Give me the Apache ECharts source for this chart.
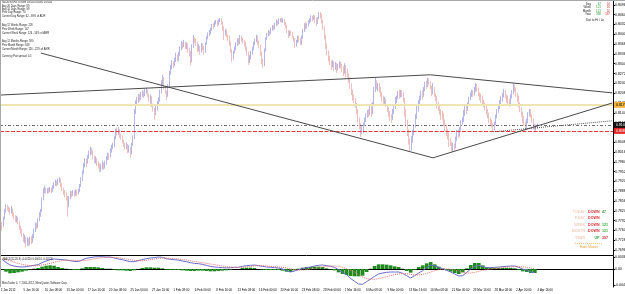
<!DOCTYPE html>
<html>
<head>
<meta charset="utf-8">
<script src="https://cdn.jsdelivr.net/npm/echarts@6/dist/echarts.min.js"></script>
<style>
html,body{margin:0;padding:0;background:#fff;}
#chart{width:625px;height:294px;}
</style>
</head>
<body>
<div id="chart"></div>
<script>
// NZDUSD H4, prices as pips above base (0.7600), one row per trading day
var base = 0.76;
var closes = [
  182,
  175,200,222,238,232,228, 220,230,212,205,196,200, 186,170,160,148,130,138, 120,128,118,132,125,140,
  160,178,172,195,210,222, 262,290,296,284,292,288, 296,290,300,310,318,312, 322,328,310,296,288,280, 268,240,265,280,276,285,
  278,286,282,290,305,326, 350,372,388,380,398,412, 425,418,400,388,392,380, 372,360,368,378,366,380, 395,408,402,420,432,438,
  462,485,478,488,470,464, 452,440,430,438,420,430, 412,440,462,545,572,585, 598,590,604,610,600,615, 618,602,588,596,570,556,
  540,558,575,586,612,640, 655,628,612,596,630,672, 690,705,700,716,728,720, 735,752,770,762,776,760, 768,750,742,712,760,790,
  780,770,752,760,748,766, 758,745,770,788,800,810, 818,830,826,838,842,834, 846,850,836,820,805,812, 798,790,770,748,725,740,
  755,768,780,772,790,784, 776,770,752,738,712,725, 740,752,770,780,790,772, 760,738,712,700,748,785, 798,808,802,816,826,820,
  832,840,836,846,850,842, 848,836,826,810,798,808, 802,790,784,768,776,790, 782,770,790,812,828,824, 832,840,846,856,850,858,
  848,838,852,866,860,845, 820,790,760,738,722,710, 700,708,690,702,688,696, 705,698,690,680,694,686, 665,650,632,610,596,588,
  570,548,520,500,478,492, 505,520,534,548,540,560, 548,570,620,640,628,634, 620,604,590,578,584,570, 555,540,528,522,548,560,
  580,592,608,600,614,606, 585,550,510,480,450,430, 455,478,500,530,560,572, 590,606,598,620,636,630, 650,642,628,610,622,604,
  590,572,560,548,536,530, 512,498,480,470,452,440, 425,438,430,460,478,470, 490,512,520,540,560,552, 570,588,600,612,606,620,
  632,620,604,598,590,582, 570,560,548,536,520,514, 500,490,508,530,548,560, 578,590,600,612,598,588, 578,572,594,612,628,620,
  600,592,570,556,540,528, 510,495,518,538,550,534, 520,500,494,498,504
];
var highs = [
  190,
  188,205,230,246,244,238, 235,240,232,218,210,208, 204,190,176,166,152,146, 140,138,134,140,142,148,
  166,186,184,200,220,230, 268,298,306,300,298,300, 302,300,308,318,326,322, 330,334,330,314,300,292, 285,272,272,290,288,292,
  290,294,292,296,312,334, 356,380,396,394,406,420, 433,430,422,404,402,396, 386,378,378,388,382,388, 402,414,412,428,440,446,
  468,492,496,498,490,476, 470,456,446,448,442,438, 432,446,470,556,584,596, 606,604,612,618,614,622, 626,620,606,604,598,574,
  560,566,582,594,620,650, 668,660,632,616,638,680, 700,716,712,724,740,734, 742,760,778,774,782,772, 774,770,756,746,768,798,
  788,786,776,768,762,772, 770,762,774,794,806,814, 822,834,836,844,847,846, 850,853,852,842,826,818, 815,800,796,776,752,746,
  760,774,786,788,798,796, 788,782,776,760,744,732, 746,760,776,786,798,796, 780,766,742,720,754,790, 804,814,812,822,830,830,
  838,848,844,852,853,854, 852,850,840,830,814,812, 812,808,794,788,782,796, 796,788,796,818,836,840, 836,846,852,862,860,863,
  862,854,856,872,873,868, 848,826,798,770,748,730, 714,716,712,710,706,704, 712,710,704,696,706,700, 688,672,660,640,620,604,
  592,576,556,528,510,500, 512,528,542,553,556,566, 576,578,628,658,650,641, 641,628,612,600,596,590, 572,563,550,540,556,570,
  596,600,615,619,619,618, 612,592,556,521,490,460, 468,488,506,540,568,586, 600,616,618,628,645,648, 658,656,646,632,641,628,
  609,598,580,570,556,550, 544,522,506,490,480,462, 450,446,444,466,488,490, 498,520,530,553,566,568, 578,596,610,619,618,628,
  641,638,626,610,606,600, 586,578,568,556,544,528, 522,510,516,538,556,572, 586,598,609,622,618,604, 600,590,604,618,641,636,
  626,610,600,578,562,548, 534,516,526,546,557,556, 538,526,508,506,510
];
var lows = [
  170,
  160,172,196,218,225,220, 212,215,205,196,188,186, 180,162,150,140,122,118, 105,110,108,112,116,120,
  135,155,164,168,190,205, 220,258,282,278,280,282, 284,282,286,296,305,304, 308,316,302,288,276,268, 258,205,236,262,268,272,
  270,274,272,278,286,302, 322,345,366,368,378,394, 405,408,392,380,378,370, 362,350,352,360,358,362, 375,390,392,398,414,426,
  432,458,470,472,462,456, 445,432,424,426,412,414, 398,408,436,458,540,566, 578,580,586,596,592,598, 606,596,580,574,562,548,
  522,536,552,570,580,606, 632,620,605,586,596,626, 668,686,690,696,710,712, 712,730,748,754,758,752, 752,740,728,700,708,756,
  772,762,742,744,733,740, 748,733,740,766,784,794, 800,812,818,824,832,826, 830,840,832,812,782,796, 790,778,762,740,710,718,
  738,748,762,766,768,776, 770,760,746,730,700,706, 718,734,748,764,774,766, 754,730,702,690,696,744, 782,794,796,800,812,814,
  816,828,828,834,840,838, 838,830,820,804,788,794, 796,786,776,756,760,772, 774,765,766,786,808,816, 818,826,836,840,842,848,
  838,826,834,850,852,836, 814,784,752,732,712,700, 684,692,680,684,674,682, 690,688,676,664,672,660, 660,642,622,602,584,576,
  560,540,512,490,465,474, 478,500,514,528,530,536, 530,540,566,612,620,614, 610,596,580,566,570,563, 548,531,518,511,520,540,
  556,576,588,590,594,596, 578,531,500,468,440,416, 420,446,470,496,524,548, 566,584,588,596,614,622, 628,636,620,598,604,596,
  582,558,550,538,521,522, 500,484,468,458,433,436, 418,416,420,428,452,462, 466,486,506,514,534,540, 550,566,584,596,596,600,
  612,614,598,586,576,568, 562,552,538,526,510,500, 496,482,486,504,526,544, 556,572,580,594,590,576, 566,563,568,590,604,612,
  596,580,562,546,531,511, 502,488,490,510,532,528, 512,494,482,486,492
];

// x axis labels, MT4 puts one every 16 bars
var labelBars = [0,17,33,49,65,81,97,113,129,145,161,177,193,209,225,241,257,273,289,305,321,337,353,369,385,401];
var timeLabels = ['2 Jan 2012','5 Jan 16:00','10 Jan 08:00','13 Jan 00:00','17 Jan 16:00','20 Jan 08:00','25 Jan 00:00',
  '27 Jan 16:00','1 Feb 08:00','6 Feb 00:00','8 Feb 16:00','13 Feb 08:00','16 Feb 00:00','20 Feb 16:00','23 Feb 08:00',
  '28 Feb 00:00','1 Mar 16:00','6 Mar 08:00','9 Mar 00:00','13 Mar 16:00','16 Mar 08:00','21 Mar 00:00','23 Mar 16:00',
  '28 Mar 08:00','2 Apr 00:00','4 Apr 16:00'];
var priceTicks = [0.8496,0.8464,0.8432,0.8400,0.8368,0.8336,0.8304,0.8272,0.8240,0.8208,0.8176,0.8144,0.8112,
  0.8080,0.8048,0.8016,0.7984,0.7952,0.7920,0.7888,0.7856,0.7824,0.7792,0.7760,0.7728,0.7696];

// MACD(12,26,9) sampled every 3 bars, in pips
var macdLine = [29,20,12,9,7,6,7,9,11,13, 19,24,28,30,29,28,27,25,23,22, 27,32,34,36,37,37,36,36,33,30,
  28,25,22,22,25,28,31,33,34,36, 35,31,29,28,27,24,22,19,17,16, 14,11,8,6,5,4,3,4,5,5,
  8,10,11,12,10,8,6,5,4,3, 0,-5,-9,-6,-2,1,4,6,9,11, 12,10,8,5,-2,-10,-17,-28,-37,-45,
  -46,-38,-30,-22,-15,-12,-10,-9,-9,-9, -13,-20,-27,-20,-12,-5,4,12,9,5, 1,-4,-9,-15,-21,-20,-10,0,8,11,
  7,4,4,5,6,7,8,9,9,5, 0,-4,-9,-11];
var signalLine = [30,28,25,21,17,14,12,10,10,10, 12,14,17,20,23,25,26,26,26,25, 25,26,28,30,32,34,35,35,35,34,
  32,30,28,26,25,25,26,28,30,32, 33,33,32,31,30,28,27,25,23,21, 19,17,15,13,11,9,7,6,5,5,
  5,6,7,9,10,10,9,8,7,6, 5,3,0,-2,-3,-3,-2,0,2,4, 6,8,9,9,8,5,1,-4,-10,-17,
  -24,-29,-31,-31,-29,-26,-23,-20,-17,-15, -14,-14,-16,-18,-18,-16,-13,-9,-5,-2, 0,0,-1,-3,-6,-10,-12,-12,-10,-7,
  -4,-2,0,2,3,4,5,6,7,7, 7,5,3,1];
var osma = [-1,-8,-13,-12,-10,-8,-5,-1,1,3, 7,10,11,10,6,3,1,-1,-3,-3, 2,6,6,6,5,3,1,1,-2,-4,
  -4,-5,-6,-4,0,3,5,5,4,4, 2,-2,-3,-3,-3,-4,-5,-6,-6,-5, -5,-6,-7,-7,-6,-5,-4,-2,0,0,
  3,4,4,3,0,-2,-3,-3,-3,-3, -5,-8,-9,-4,1,4,6,6,7,7, 6,2,-1,-4,-10,-15,-18,-21,-22,-22,
  -20,-9,1,9,14,14,13,11,8,6, 1,-6,-11,-2,6,11,17,21,14,7, 1,-4,-8,-12,-15,-10,2,12,18,18,
  11,6,4,3,3,3,3,3,2,-2, -7,-9,-12,-12];
var macdTicks = [0.0036, 0, -0.0048];

// horizontal levels (pips) and trend lines [bar, pips]
var levelPips = [570, 504, 485];
var upperLine = [[0, 602], [321, 668], [457, 609]];
var fallLine = [[30, 739], [323, 397]];
var riseLine = [[323, 397], [457, 576]];
var dotLine = [[368, 482], [457, 518]];

function px(p) { return base + p / 10000; }

var totalBars = 458;
var barIds = [];
for (var i = 0; i < totalBars; i++) barIds.push(String(i));
var macdIds = [];
for (var k = 0; k < 153; k++) macdIds.push(String(k));

var kData = [];
for (var i = 0; i < closes.length; i++) {
  var o = i == 0 ? closes[0] + 6 : closes[i - 1];
  var c = closes[i];
  kData.push([px(o), px(c), px(Math.min(lows[i], o, c)), px(Math.max(highs[i], o, c))]);
}

function isLabelBar(idx) { return labelBars.indexOf(idx) >= 0; }

var FONT = 'Liberation Sans';
var levelColors = ['#efe5b0', '#4a4a4a', '#e43a3a'];
var levelBoxes = ['#f2b43e', '#111111', '#e02828'];
var levelText = ['#000', '#fff', '#fff'];
var levelTypes = ['solid', [3, 2, 1, 2], [4, 1.5]];
var levelWidths = [2, 0.8, 1.2];

var marks = [];
levelPips.forEach(function (p, n) {
  marks.push({
    yAxis: px(p),
    lineStyle: { color: levelColors[n], width: levelWidths[n], type: levelTypes[n] },
    label: { show: true, position: 'end', distance: 1, formatter: px(p).toFixed(4), fontSize: 3.5, fontFamily: FONT,
      color: levelText[n], backgroundColor: levelBoxes[n], padding: [1, 2] }
  });
});
function addPolyline(pts, style) {
  for (var j = 0; j < pts.length - 1; j++) {
    marks.push([
      { coord: [pts[j][0], px(pts[j][1])], lineStyle: style, label: { show: false } },
      { coord: [pts[j + 1][0], px(pts[j + 1][1])] }
    ]);
  }
}
addPolyline(upperLine, { color: '#4a4a4a', width: 1, type: 'solid' });
addPolyline(fallLine, { color: '#4a4a4a', width: 1, type: 'solid' });
addPolyline(riseLine, { color: '#4a4a4a', width: 1, type: 'solid' });
addPolyline(dotLine, { color: '#555', width: 1, type: 'dotted' });

// text overlays
var infoLines = ['NZDUSD,H4  0.8098 0.8110 0.8092 0.8104', 'Avg 20 Days Range: 89', 'Avg 10 Days Range: 98',
  'Prev Day Range: 70', 'Current Day Range: 62 - 69% of ADR', 'Avg 12 Weeks Range: 226', 'Prev Week Range: 147',
  'Current Week Range: 126 - 56% of AWR', 'Avg 12 Months Range: 580', 'Prev Month Range: 348',
  'Current Month Range: 126 - 22% of AMR', 'Currency Pair spread: 4.5'];
var infoY = [2.7, 6, 9.3, 12.5, 15.8, 25.3, 29, 33, 41.7, 45.4, 49.3, 56.7];
var rangeRows = [['Day', '47', '16'], ['Week', '121', '16'], ['Month', '121', '16'], ['Year', '338', '397']];
var moveRows = [['TODAY', 'DOWN', '47'], ['P.DAY', 'DOWN', ''], ['WEEK', 'DOWN', '121'], ['MONTH', 'DOWN', '121'], ['YEAR', 'UP', '397']];

function txt(x, y, s, size, color, align, weight) {
  return { type: 'text', silent: true, z: 100, x: x, y: y,
    style: { text: s, fill: color, font: (weight || 'normal') + ' ' + size + 'px "' + FONT + '"',
      textAlign: align || 'left', textVerticalAlign: 'middle', align: align || 'left', verticalAlign: 'middle' } };
}
var els = [];
infoLines.forEach(function (s, n) { els.push(txt(2, infoY[n], s, 2.6, '#222')); });
var rowY = [4.4, 7.6, 10.8, 14.2];
rangeRows.forEach(function (r, n) {
  els.push(txt(591, rowY[n], r[0], 3, '#222', 'right'));
  els.push(txt(601, rowY[n], r[1], 3, '#2a9a2a', 'right'));
  els.push(txt(610, rowY[n], r[2], 3, '#d83a3a', 'right'));
});
els.push(txt(595, 19.8, 'Dist to Hi / Lo', 3, '#222', 'center'));
var moveY = [211.5, 218, 224.6, 231.2, 238];
moveRows.forEach(function (r, n) {
  els.push(txt(585, moveY[n], r[0], 3.6, '#f3cbbd', 'right', 'bold'));
  els.push(txt(599.5, moveY[n], r[1], 3.6, r[1] == 'UP' ? '#35a535' : '#d53030', 'right', 'bold'));
  els.push(txt(602, moveY[n], r[2], 3.6, n == 4 ? '#d53030' : '#35a535', 'left', 'bold'));
});
els.push({ type: 'line', silent: true, z: 100, shape: { x1: 575, y1: 243.5, x2: 603, y2: 243.5 },
  style: { stroke: '#e9a33c', lineWidth: 0.7, lineDash: [1, 1] } });
els.push(txt(589, 247.3, 'Main Moves', 3.4, '#e9a33c', 'center'));
els.push(txt(3, 259.5, 'MACD(12,26,9) -0.00110 0.00010 -0.00120', 2.6, '#222'));
els.push(txt(2, 283.4, 'MetaTrader 4, \u00a9 2001-2012, MetaQuotes Software Corp.', 2.6, '#222'));
els.push({ type: 'line', silent: true, z: 100, shape: { x1: 0, y1: 0.5, x2: 625, y2: 0.5 }, style: { stroke: '#a8a8a8', lineWidth: 1 } });
els.push({ type: 'line', silent: true, z: 100, shape: { x1: 0.5, y1: 0, x2: 0.5, y2: 287 }, style: { stroke: '#a8a8a8', lineWidth: 1 } });

var chart = echarts.init(document.getElementById('chart'), null, { renderer: 'canvas' });
var option = {
  animation: false,
  backgroundColor: '#ffffff',
  grid: [
    { left: 0, top: 0, width: 613, height: 255, containLabel: false, outerBoundsMode: 'none' },
    { left: 0, top: 256, width: 613, height: 31, containLabel: false, outerBoundsMode: 'none' }
  ],
  xAxis: [
    { type: 'category', gridIndex: 0, data: barIds, axisLine: { lineStyle: { color: '#000', width: 1 } },
      axisTick: { show: false }, axisLabel: { show: false }, splitLine: { show: false } },
    { type: 'category', gridIndex: 1, data: barIds, axisLine: { lineStyle: { color: '#000', width: 1 } },
      axisTick: { interval: isLabelBar, alignWithLabel: true, length: 2, lineStyle: { color: '#000' } },
      axisLabel: { interval: isLabelBar, align: 'left', fontSize: 3, fontFamily: FONT, color: '#000', margin: 2,
        formatter: function (v, idx) { var n = labelBars.indexOf(idx); return n >= 0 ? timeLabels[n] : ''; } },
      splitLine: { show: false } },
    { type: 'category', gridIndex: 1, data: macdIds, show: false }
  ],
  yAxis: [
    { type: 'value', gridIndex: 0, position: 'right', min: 0.7680, max: 0.8512,
      axisLine: { show: true, lineStyle: { color: '#000', width: 1 } },
      axisTick: { show: true, length: 2, customValues: priceTicks, lineStyle: { color: '#000' } },
      axisLabel: { customValues: priceTicks, fontSize: 3.5, fontFamily: FONT, color: '#000', margin: 2,
        formatter: function (v) { return v.toFixed(4); } },
      splitLine: { show: false } },
    { type: 'value', gridIndex: 1, position: 'right', min: -0.0054, max: 0.0039,
      axisLine: { show: true, lineStyle: { color: '#000', width: 1 } },
      axisTick: { show: true, length: 2, customValues: macdTicks, lineStyle: { color: '#000' } },
      axisLabel: { customValues: macdTicks, fontSize: 3.5, fontFamily: FONT, color: '#000', margin: 2,
        formatter: function (v) { return v == 0 ? '0.00' : v.toFixed(4); } },
      splitLine: { show: false } }
  ],
  series: [
    { type: 'candlestick', xAxisIndex: 0, yAxisIndex: 0, data: kData, barWidth: 1,
      itemStyle: { color: '#8585da', color0: '#e39494', borderColor: '#8585da', borderColor0: '#e39494', borderWidth: 0.6 },
      markLine: { symbol: 'none', silent: true, animation: false, precision: 6, data: marks } },
    { type: 'bar', xAxisIndex: 2, yAxisIndex: 1, barCategoryGap: '10%',
      data: osma.map(function (v) { return v / 10000; }), itemStyle: { color: '#1f8a1f' } },
    { type: 'line', xAxisIndex: 2, yAxisIndex: 1, showSymbol: false, z: 3,
      data: macdLine.map(function (v) { return v / 10000; }), lineStyle: { color: '#6b6bc9', width: 1 } },
    { type: 'line', xAxisIndex: 2, yAxisIndex: 1, showSymbol: false, z: 3,
      data: signalLine.map(function (v) { return v / 10000; }), lineStyle: { color: '#e07070', width: 1, type: 'dotted' } }
  ],
  graphic: { elements: els }
};
chart.setOption(option);
</script>
</body>
</html>
